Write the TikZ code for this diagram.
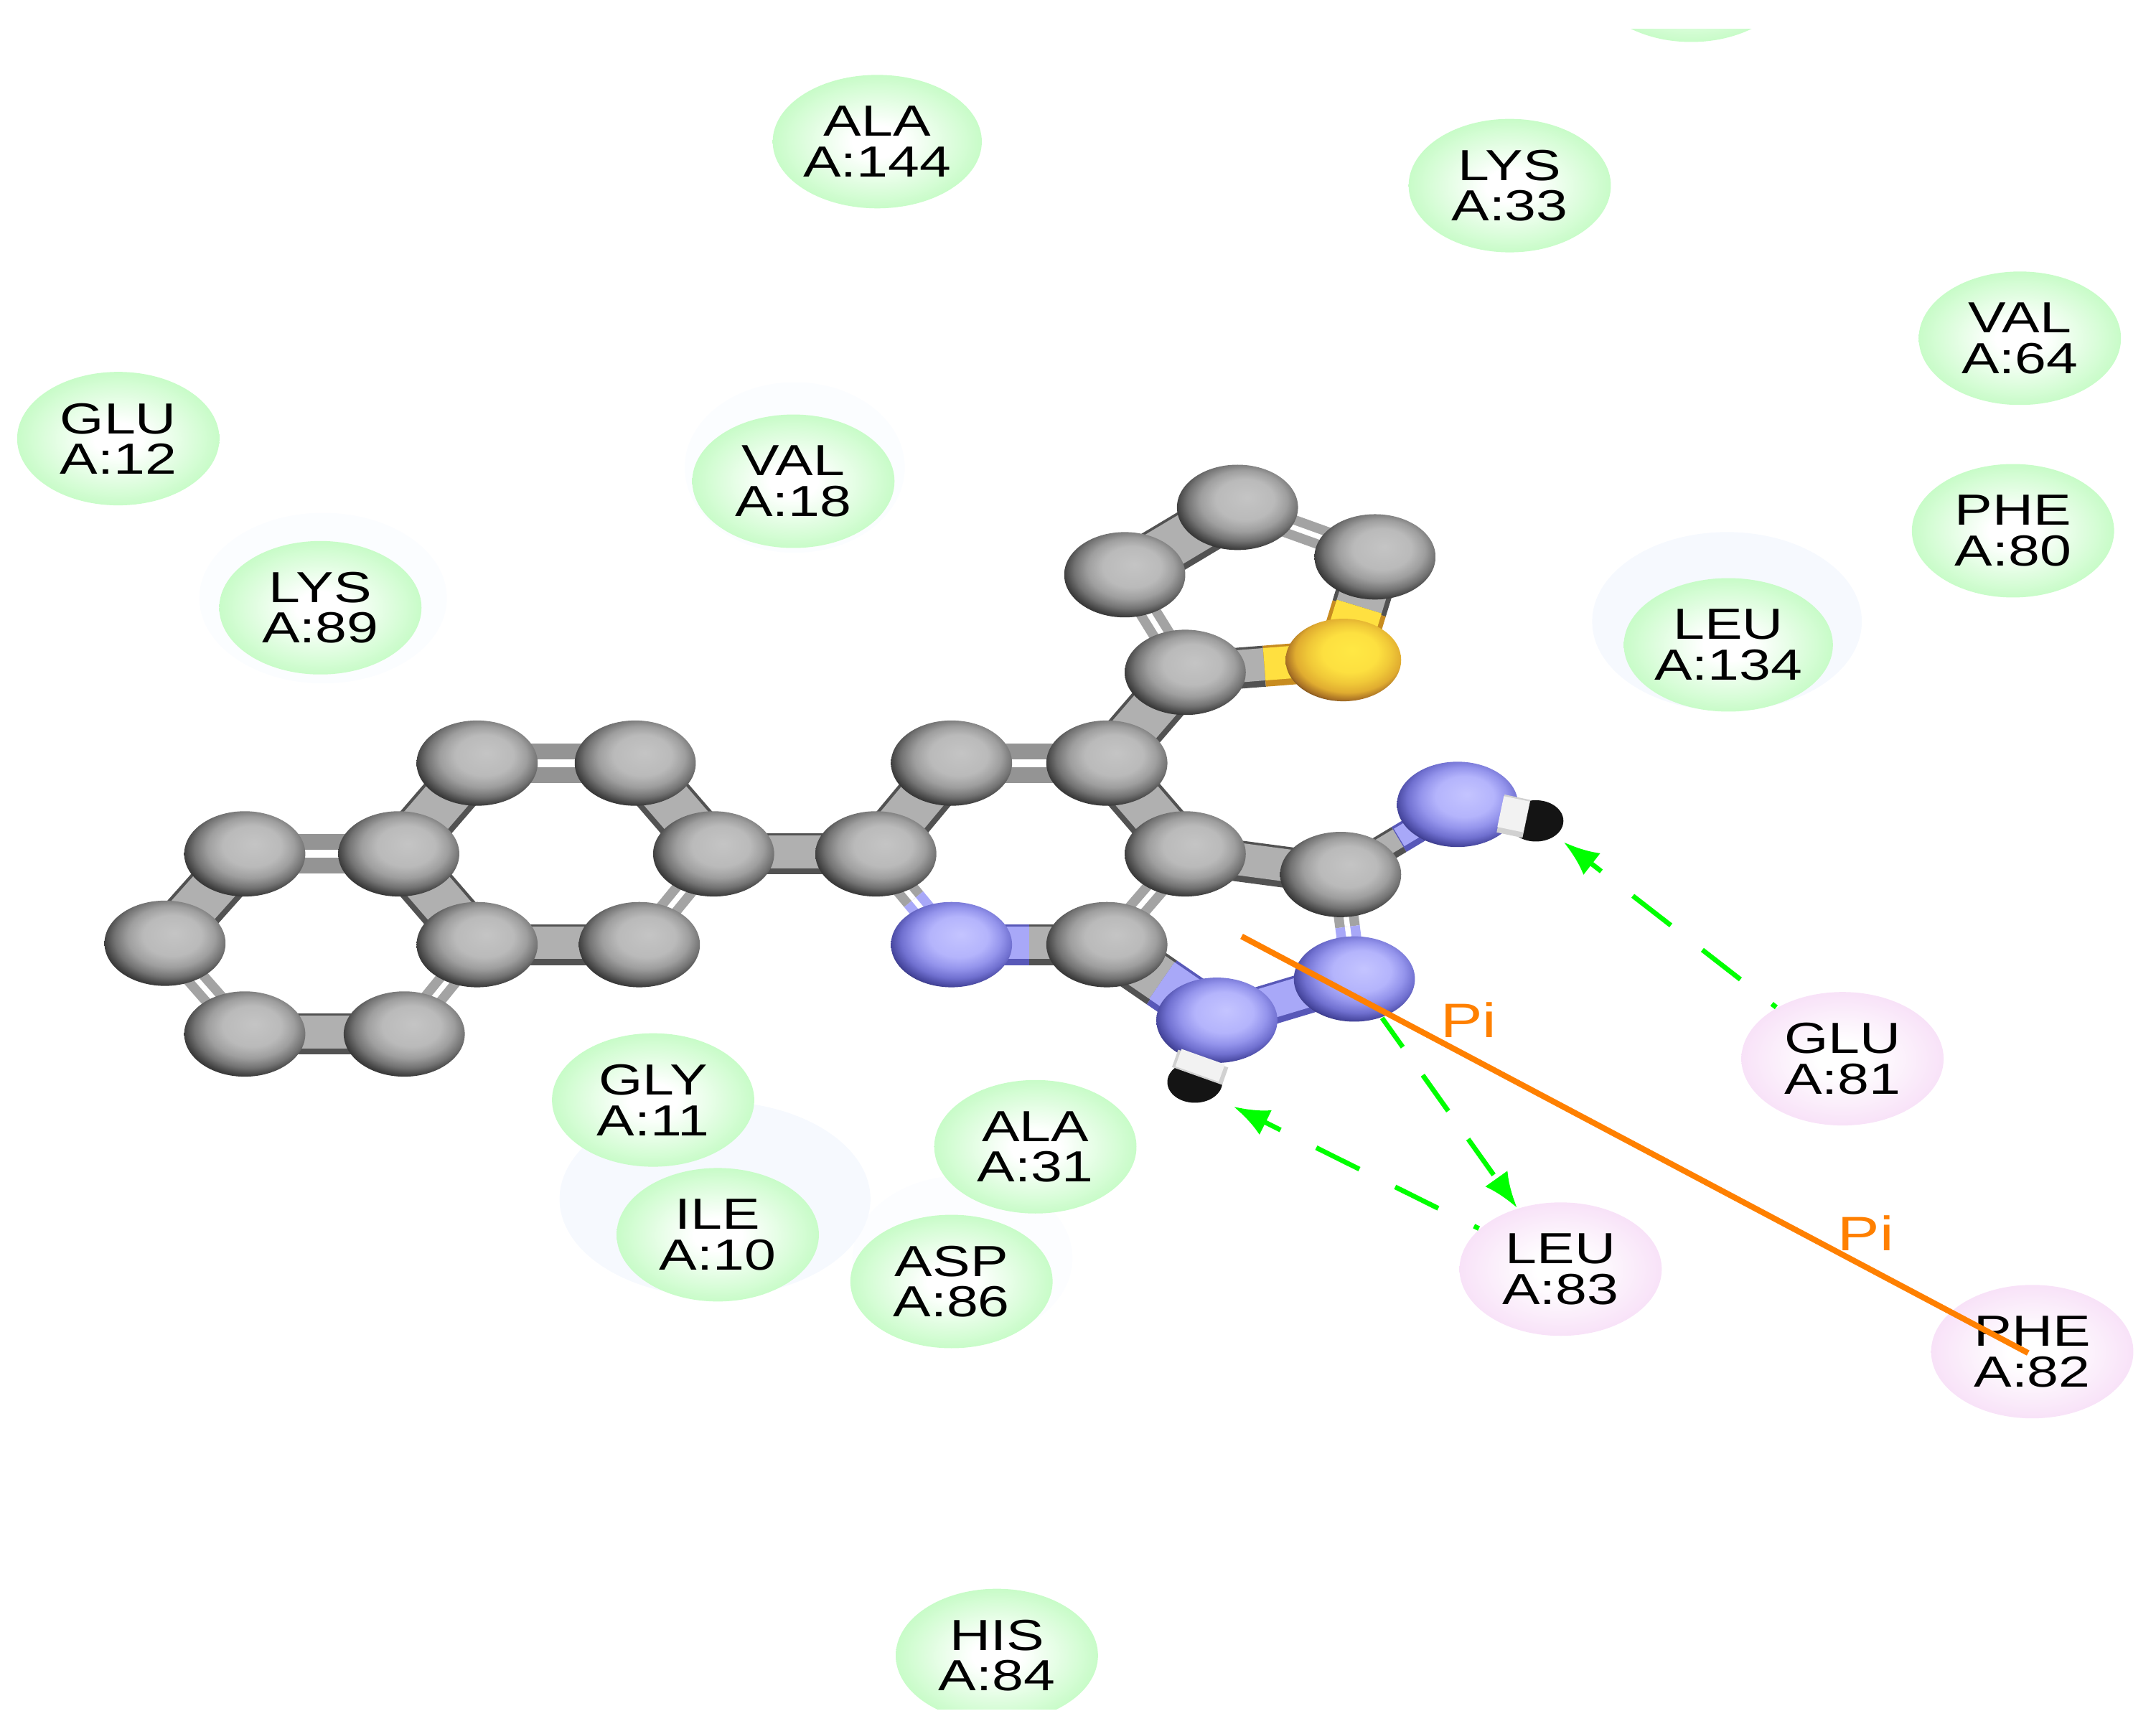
\documentclass[tikz,border=0pt]{standalone}
\usepackage{fontspec}
\setmainfont[FakeStretch=1.3]{Liberation Sans}
\usetikzlibrary{arrows.meta,backgrounds,calc,shapes.geometric}

\definecolor{resgreen}{HTML}{C8FCC8}
\definecolor{respink}{HTML}{F8E2F8}
\definecolor{pilabel}{HTML}{FF8000}
\definecolor{hbondgreen}{HTML}{00FF00}
\definecolor{halocol}{HTML}{F6F9FE}
\definecolor{bondN}{HTML}{A8A8F8}
\definecolor{bondNedge}{HTML}{5858B8}
\definecolor{bondS}{HTML}{FFE040}
\definecolor{bondSedge}{HTML}{C88C20}

\pgfdeclareradialshading{atomgray}{\pgfpoint{4bp}{6bp}}{
  color(0bp)=(black!23); color(12bp)=(black!27); color(18bp)=(black!38);
  color(23bp)=(black!55); color(27bp)=(black!75); color(31bp)=(black!90); color(50bp)=(black!90)}
\pgfdeclareradialshading{atomblue}{\pgfpoint{4bp}{6bp}}{
  color(0bp)=(rgb,255:red,196;green,196;blue,255); color(12bp)=(rgb,255:red,180;green,180;blue,252);
  color(18bp)=(rgb,255:red,148;green,148;blue,236); color(23bp)=(rgb,255:red,112;green,112;blue,208);
  color(27bp)=(rgb,255:red,72;green,72;blue,160); color(31bp)=(rgb,255:red,30;green,30;blue,80);
  color(50bp)=(rgb,255:red,30;green,30;blue,80)}
\pgfdeclareradialshading{atomyellow}{\pgfpoint{4bp}{6bp}}{
  color(0bp)=(rgb,255:red,255;green,232;blue,68); color(12bp)=(rgb,255:red,253;green,224;blue,64);
  color(18bp)=(rgb,255:red,240;green,200;blue,56); color(23bp)=(rgb,255:red,224;green,172;blue,48);
  color(27bp)=(rgb,255:red,168;green,112;blue,36); color(31bp)=(rgb,255:red,42;green,26;blue,16);
  color(50bp)=(rgb,255:red,42;green,26;blue,16)}
\pgfdeclareradialshading{resgreenball}{\pgfpointorigin}{
  color(0bp)=(white); color(6bp)=(white); color(25bp)=(resgreen); color(50bp)=(resgreen)}
\pgfdeclareradialshading{respinkball}{\pgfpointorigin}{
  color(0bp)=(white); color(6bp)=(white); color(25bp)=(respink); color(50bp)=(respink)}

\begin{document}
\begin{tikzpicture}[x=0.01cm, y=-0.01cm,
    atom/.style={ellipse, minimum width=0.88cm, minimum height=0.62cm, inner sep=0pt},
    carbon/.style={atom, shading=atomgray},
    nitrogen/.style={atom, shading=atomblue},
    sulfur/.style={atom, minimum width=0.84cm, minimum height=0.60cm, shading=atomyellow},
    hydrogen/.style={ellipse, minimum width=0.40cm, minimum height=0.30cm, inner sep=0pt, fill=black!92},
    residue/.style={ellipse, minimum width=1.47cm, minimum height=0.97cm, inner sep=0pt,
                    align=center, font=\fontsize{9}{8.4}\selectfont, text=black},
    nearres/.style={residue, shading=resgreenball},
    bindres/.style={residue, shading=respinkball},
    halo/.style={ellipse, fill=halocol, inner sep=0pt},
    single/.style={line width=#1, draw=black!68,
                   postaction={draw=black!31, line width=#1-1.8pt, transform canvas={yshift=0.4pt}}},
    single/.default=8.5pt,
    singleN/.style={line width=#1, draw=bondNedge,
                    postaction={draw=bondN, line width=#1-1.8pt, transform canvas={yshift=0.4pt}}},
    singleN/.default=8.5pt,
    singleS/.style={line width=#1, draw=bondSedge,
                    postaction={draw=bondS, line width=#1-1.8pt, transform canvas={yshift=0.4pt}}},
    singleS/.default=8.5pt,
    doublewide/.style={line width=3.2pt, draw=black!42, double=white, double distance=1.7pt},
    doublethin/.style={line width=2pt, draw=black!36, double=white, double distance=1.1pt},
    doubleN/.style={line width=2pt, draw=bondN, double=white, double distance=1.1pt},
    hstub/.style={line width=#1, draw=black!18,
                  postaction={draw=black!5, line width=#1-1.5pt, transform canvas={yshift=0.4pt}}},
    hbond/.style={draw=hbondgreen, line width=1pt, dash pattern=on 0.35cm off 0.29cm,
                  -{Latex[length=0.26cm,width=0.2cm]}},
    pibond/.style={draw=pilabel, line width=1.2pt},
    pitext/.style={text=pilabel, font=\fontsize{10}{10}\selectfont, inner sep=0pt},
]
\useasboundingbox (0,0) rectangle (1568,1261);
\begin{scope}
\clip (0,21) rectangle (1568,1243);

% faint halos
\node[halo, minimum width=1.96cm, minimum height=1.30cm] (haloLeu) at (1256,452) {};
\node[halo, minimum width=2.26cm, minimum height=1.42cm] (haloIle) at (520,872) {};
\node[halo, opacity=0.4, minimum width=1.60cm, minimum height=1.24cm] (haloVal) at (578,340) {};
\node[halo, opacity=0.4, minimum width=1.80cm, minimum height=1.24cm] (haloLys) at (235,435) {};
\node[halo, opacity=0.3, minimum width=1.60cm, minimum height=1.20cm] (haloAsp) at (700,915) {};

% residues
\node[nearres] (resTop) at (1230,-18) {};
\node[nearres] (ala144) at (638,103) {ALA\\A:144};
\node[nearres] (lys33) at (1098,135) {LYS\\A:33};
\node[nearres] (val64) at (1469,246) {VAL\\A:64};
\node[nearres] (phe80) at (1464,386) {PHE\\A:80};
\node[nearres] (glu12) at (86,319) {GLU\\A:12};
\node[nearres] (val18) at (577,350) {VAL\\A:18};
\node[nearres] (lys89) at (233,442) {LYS\\A:89};
\node[nearres] (leu134) at (1257,469) {LEU\\A:134};
\node[nearres] (gly11) at (475,800) {GLY\\A:11};
\node[nearres] (ala31) at (753,834) {ALA\\A:31};
\node[nearres] (ile10) at (522,898) {ILE\\A:10};
\node[nearres] (asp86) at (692,932) {ASP\\A:86};
\node[nearres] (his84) at (725,1204) {HIS\\A:84};
\node[bindres] (glu81) at (1340,770) {GLU\\A:81};
\node[bindres] (leu83) at (1135,923) {LEU\\A:83};
\node[bindres] (phe82) at (1478,983) {PHE\\A:82};

% atoms
\node[carbon] (c1) at (178,621) {};
\node[carbon] (c2) at (120,686) {};
\node[carbon] (c3) at (178,752) {};
\node[carbon] (c4) at (294,752) {};
\node[carbon] (c5) at (347,687) {};
\node[carbon] (c6) at (290,621) {};
\node[carbon] (c7) at (347,555) {};
\node[carbon] (c8) at (462,555) {};
\node[carbon] (c9) at (519,621) {};
\node[carbon] (c10) at (465,687) {};
\node[carbon] (c11) at (637,621) {};
\node[carbon] (c12) at (692,555) {};
\node[carbon] (c13) at (805,555) {};
\node[carbon] (c14) at (862,621) {};
\node[carbon] (c15) at (805,687) {};
\node[nitrogen] (n1) at (692,687) {};
\node[carbon] (c16) at (862,489) {};
\node[sulfur] (s1) at (977,480) {};
\node[carbon] (c17) at (1000,405) {};
\node[carbon] (c18) at (900,369) {};
\node[carbon] (c19) at (818,418) {};
\node[carbon] (c20) at (975,636) {};
\node[nitrogen] (n2) at (1060,585) {};
\node[nitrogen] (n3) at (985,712) {};
\node[nitrogen] (n4) at (885,742) {};
\node[hydrogen] (h1) at (1117,597) {};
\node[hydrogen] (h2) at (869,787) {};

% bonds
\begin{scope}[on background layer]
\foreach \a/\b in {c10/c5,c4/c3,c9/c11,c14/c20} {
  \draw[single] (\a.center) -- (\b.center);
}
\foreach \a/\b in {c6/c7,c8/c9,c2/c1,c6/c5,c11/c12,c13/c14,c13/c16,c18/c19} {
  \draw[single=11pt] (\a.center) -- (\b.center);
}
\foreach \a/\b in {c1/c6,c7/c8,c12/c13} {
  \draw[doublewide] (\a.center) -- (\b.center);
}
\foreach \a/\b in {c9/c10,c5/c4,c3/c2,c14/c15,c19/c16,c17/c18} {
  \draw[doublethin] (\a.center) -- (\b.center);
}
% half and half
\draw[single] (c15.center) -- ($(c15.center)!0.5!(n1.center)$);
\draw[singleN] ($(c15.center)!0.5!(n1.center)$) -- (n1.center);
\draw[single=11pt] (c15.center) -- ($(c15.center)!0.5!(n4.center)$);
\draw[singleN=11pt] ($(c15.center)!0.5!(n4.center)$) -- (n4.center);
\draw[singleN] (n4.center) -- (n3.center);
\draw[single] (c16.center) -- ($(c16.center)!0.5!(s1.center)$);
\draw[singleS] ($(c16.center)!0.5!(s1.center)$) -- (s1.center);
\draw[single=11.5pt] (c17.center) -- ($(c17.center)!0.5!(s1.center)$);
\draw[singleS=11.5pt] ($(c17.center)!0.5!(s1.center)$) -- (s1.center);
\draw[doublethin] (c11.center) -- ($(c11.center)!0.5!(n1.center)$);
\draw[doubleN] ($(c11.center)!0.5!(n1.center)$) -- (n1.center);
\draw[doublethin] (c20.center) -- ($(c20.center)!0.5!(n3.center)$);
\draw[doubleN] ($(c20.center)!0.5!(n3.center)$) -- (n3.center);
\draw[single=6pt] (c20.center) -- ($(c20.center)!0.5!(n2.center)$);
\draw[singleN=6pt] ($(c20.center)!0.5!(n2.center)$) -- (n2.center);
\end{scope}
\draw[hstub=8pt] ($(n2.center)!0.55!(h1.center)$) -- ($(n2.center)!0.88!(h1.center)$);
\draw[hstub=11pt] ($(n4.center)!0.62!(h2.center)$) -- ($(n4.center)!0.90!(h2.center)$);

% interactions
\draw[hbond, dash phase=0.31cm, shorten >=0.07cm] (glu81) -- (h1.south east);
\draw[hbond, dash phase=0.31cm, shorten >=0.15cm] (leu83) -- (h2.south east);
\draw[hbond, dash pattern=on 0.32cm off 0.25cm, dash phase=0.06cm] (n3) -- (leu83);
\coordinate (ringmid) at (903,681);
\coordinate (piend) at (1475,984);
\draw[pibond] (ringmid) -- (piend);
\node[pitext] (piA) at (1068,742) {Pi};
\node[pitext] (piB) at (1357,897) {Pi};
\end{scope}
\end{tikzpicture}
\end{document}
